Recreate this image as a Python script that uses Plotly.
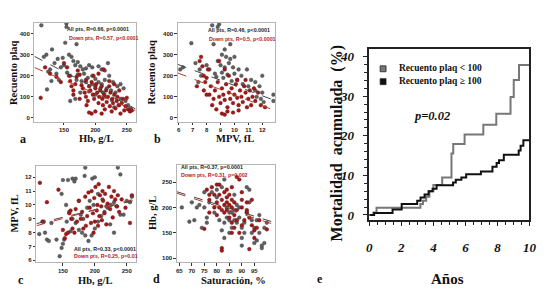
import plotly.graph_objects as go

W, H = 560, 295
def px(x): return x / W
def py(y): return 1 - y / H

# ---------------- data ----------------
# panel a: Hb (g/L) vs platelet count
a_all_hb = [114,154,154,152,170,131,122,118,140,148,158,162,165,172,168,176,180,185,190,195,205,210,215,220,145,150,135,128,138,155,160,172,182,188,195,200,205,210,215,222,228,235,240,245,232,225,218,212,208,200,195,185,178,170,160,168,240,248,252,256,238,230,226,200,190,215,130,142,123,125,176]
a_all_pl = [440,448,432,357,350,325,300,290,280,285,300,290,270,265,250,245,230,235,250,240,245,230,225,260,240,250,260,230,210,215,200,205,210,190,200,185,170,160,180,200,170,150,160,140,120,130,140,120,140,150,160,170,175,180,80,90,90,80,60,45,60,50,85,110,125,100,175,180,135,220,120]
a_down_hb = [113,120,128,138,145,150,155,158,160,162,165,168,170,172,175,178,180,183,185,188,190,192,194,196,198,200,201,203,205,206,208,210,211,212,214,215,217,218,220,222,223,224,226,227,228,230,232,234,235,237,238,240,242,244,246,248,250,252,255,258,200,194,190,186,210,165,175,197,205,213,222,230,185]
a_down_pl = [95,240,210,195,170,260,240,200,175,150,130,160,195,225,205,155,140,120,100,80,150,130,170,110,90,140,160,120,70,100,130,150,90,60,110,40,130,75,100,150,55,120,30,90,70,110,45,80,100,60,130,20,70,90,35,55,95,40,30,35,30,20,25,60,20,110,90,200,210,230,175,160,180]

# panel b: MPV (fL) vs platelet count
b_all_mpv = [8.4,8.9,8.8,6.9,8.5,9.3,9.7,9.1,9.4,9.7,10.0,8.8,9.0,9.6,9.3,9.9,10.3,10.9,8.0,8.2,8.6,9.1,9.5,10.0,10.5,11.2,11.5,12.0,12.8,12.8,12.0,11.8,11.5,11.0,10.6,10.2,9.8,9.2,8.7,7.6,7.4,7.5,6.3,6.1,7.2,11.9,11.6,12.1]
b_all_pl = [440,445,432,355,350,325,350,300,290,280,290,270,250,260,240,240,230,230,250,230,210,215,205,210,200,180,170,200,110,80,120,150,130,150,160,180,175,190,195,200,170,230,240,230,260,90,100,75]
b_down_mpv = [7.6,7.5,7.7,8.0,7.9,7.8,8.1,8.3,8.2,8.5,8.6,8.8,8.9,9.0,9.1,9.2,9.3,9.4,9.5,9.6,9.7,9.8,9.9,10.0,10.1,10.2,10.3,10.4,10.5,10.6,10.7,10.8,10.9,11.0,11.1,11.2,11.3,11.5,11.7,11.9,12.2,9.3,9.1,9.5,9.9,10.3,8.4,8.7,9.6,10.2,8.9,9.3,10.8,11.4,8.0,7.8,7.3]
b_down_pl = [290,270,245,190,170,200,230,150,110,90,130,170,100,70,140,110,85,160,50,120,90,140,70,110,160,95,60,130,100,75,150,120,50,90,130,60,100,80,120,60,50,15,20,30,25,35,60,40,200,180,270,230,180,140,110,130,150]

# panel c: Hb (g/L) vs MPV (fL)
c_all_hb = [113,125,128,120,122,132,140,145,148,150,152,148,150,158,165,170,168,185,184,196,200,236,240,155,160,165,170,175,180,185,190,195,200,205,210,215,220,225,230,235,240,245,250,255,258,175,178,182,188,192,198,205,212,218,224,230,162,156]
c_all_mpv = [7.9,7.5,7.4,8.8,8.0,8.7,7.5,6.3,6.9,7.2,7.5,10.8,11.8,11.8,11.9,11.9,11.7,12.7,12.1,11.9,12.0,12.7,12.2,10.0,9.5,9.0,8.7,8.2,8.0,7.8,7.4,7.8,8.3,8.8,9.2,9.5,9.8,10.0,10.2,9.9,9.3,9.3,10.3,10.2,10.6,10.3,9.3,9.0,9.8,10.3,10.0,10.8,10.4,9.9,8.6,8.0,8.1,8.8]
c_down_hb = [114,118,125,143,150,153,155,158,160,162,165,168,172,175,178,180,182,185,188,190,192,194,195,197,199,200,201,203,204,205,206,207,208,210,211,212,213,215,216,218,220,222,224,226,228,230,232,234,236,238,242,248,255,258,163,170,186,198]
c_down_mpv = [11.6,8.8,10.2,11.1,8.2,7.6,7.9,8.0,9.4,9.6,8.3,8.0,8.8,10.3,9.0,9.5,8.3,10.6,9.2,10.9,9.8,8.7,11.0,9.4,10.5,8.8,11.3,9.6,10.0,8.5,11.5,9.2,10.7,9.9,8.9,11.0,10.3,9.4,10.8,8.6,10.1,11.3,9.7,10.6,9.1,11.0,10.4,9.9,10.7,9.5,10.4,9.8,8.7,10.7,9.0,9.7,8.5,8.0]

# panel d: oxygen saturation (%) vs Hb (g/L)
d_all_sat = [66,69,70,71,72,73,75,76,76,77,78,79,80,80,81,82,83,83,84,84,85,85,86,86,87,87,88,88,89,90,90,90,91,91,92,92,93,94,94,95,95,96,96,97,98,98,99,99,83,82,85,87,89,93,97,100,75,74]
d_all_hb = [200,172,210,175,200,205,200,180,170,210,230,190,235,220,175,155,140,170,180,200,150,175,160,190,195,225,170,205,180,160,140,125,150,170,190,240,235,175,150,160,130,175,135,150,120,125,130,160,255,240,190,175,200,210,185,170,230,160]
d_down_sat = [75,76,77,77,77,78,79,80,80,80,81,81,82,82,82,82,83,83,83,84,84,84,85,85,85,86,86,86,86,87,87,87,88,88,88,89,89,90,90,90,91,92,92,93,93,94,94,95,95,96,97,100,81,79,84,86,92,90]
d_down_hb = [158,235,225,215,190,240,200,245,210,185,200,225,215,195,120,115,205,230,190,210,220,195,205,180,225,200,170,215,150,185,210,160,195,175,260,255,150,200,215,165,175,195,210,118,180,165,215,155,140,160,175,157,245,225,235,240,190,230]

# regression lines (end points)
a_line_x = [103, 264]; a_line_all = [292, 42]; a_line_down = [239, 34]
b_line_x = [5.93, 12.92]; b_line_all = [254, 82]; b_line_down = [213, 34]
c_line_x = [108.5, 263.8]; c_line_all = [8.65, 10.35]; c_line_down = [8.5, 10.45]
d_line_x = [64, 103.3]; d_line_all = [231, 170]; d_line_down = [228, 166]

# panel e: cumulative mortality (%) vs years
e_low_t = [0, 0.25, 0.45, 3.19, 3.35, 3.55, 3.75, 4.0, 4.55, 5.13, 5.24, 5.95, 7.12, 7.93, 8.82, 9.02, 9.35, 10]
e_low_v = [0, 0.6, 1.8, 2.8, 3.6, 4.6, 6.0, 7.6, 9.5, 15.5, 17.9, 20.3, 22.8, 25.6, 29.8, 34.1, 37.9, 37.9]
e_high_t = [0, 0.3, 1.45, 2.02, 2.99, 3.2, 3.45, 3.7, 3.95, 4.2, 5.23, 5.4, 5.75, 6.05, 6.97, 7.69, 7.95, 8.1, 8.4, 9.33, 9.45, 9.62, 10]
e_high_v = [0, 0.5, 1.4, 2.8, 3.6, 4.4, 5.2, 6.0, 6.6, 7.5, 8.2, 8.9, 9.5, 10.3, 11.0, 12.2, 13.1, 13.8, 15.2, 16.3, 17.5, 18.9, 18.9]

stats = {
    'a': ("All pts, R=0.66, p<0.0001", "Down pts, R=0.57, p<0.0001"),
    'b': ("All pts, R=0.46, p<0.0001", "Down pts, R=0.5, p<0.0001"),
    'c': ("All pts, R=0.33, p<0.0001", "Down pts, R=0.25, p=0.01"),
    'd': ("All pts, R=0.37, p=0.0001", "Down pts, R=0.31, p=0.002"),
}

# ---------------- figure ----------------
GRAY = '#606060'; GRAY_E = '#404040'
RED = '#a11a1a'; RED_E = '#6a0c0c'
fig = go.Figure()

def scat(xs, ys, col, edge, xa, ya):
    fig.add_trace(go.Scatter(x=xs, y=ys, mode='markers', xaxis=xa, yaxis=ya,
                             marker=dict(size=3.7, color=col, line=dict(color=edge, width=0.4)),
                             showlegend=False, hoverinfo='skip'))

def reg(xs, ys, col, xa, ya):
    fig.add_trace(go.Scatter(x=xs, y=ys, mode='lines', xaxis=xa, yaxis=ya,
                             line=dict(color=col, width=1, dash='dash'),
                             showlegend=False, hoverinfo='skip'))

panels = [
    ('x', 'y', a_all_hb, a_all_pl, a_down_hb, a_down_pl, a_line_x, a_line_all, a_line_down),
    ('x2', 'y2', b_all_mpv, b_all_pl, b_down_mpv, b_down_pl, b_line_x, b_line_all, b_line_down),
    ('x3', 'y3', c_all_hb, c_all_mpv, c_down_hb, c_down_mpv, c_line_x, c_line_all, c_line_down),
    ('x4', 'y4', d_all_sat, d_all_hb, d_down_sat, d_down_hb, d_line_x, d_line_all, d_line_down),
]
for xa, ya, gx, gy, rx, ry, lx, lg, lr in panels:
    scat(gx, gy, GRAY, GRAY_E, xa, ya)
    scat(rx, ry, RED, RED_E, xa, ya)
    reg(lx, lg, '#444444', xa, ya)
    reg(lx, lr, '#c0392b', xa, ya)

fig.add_trace(go.Scatter(x=e_low_t, y=e_low_v, mode='lines', line=dict(shape='hv', color='#777777', width=2),
                         xaxis='x5', yaxis='y5', showlegend=False, hoverinfo='skip'))
fig.add_trace(go.Scatter(x=e_high_t, y=e_high_v, mode='lines', line=dict(shape='hv', color='#111111', width=2),
                         xaxis='x5', yaxis='y5', showlegend=False, hoverinfo='skip'))

def sax(dom, rng, anchor, tickvals):
    return dict(domain=dom, range=rng, anchor=anchor, tickvals=tickvals,
                showline=True, linecolor='#b5b5b5', linewidth=1, mirror=True,
                ticks='outside', ticklen=2.5, tickwidth=1, tickcolor='#333333',
                showgrid=False, zeroline=False,
                tickfont=dict(family='Liberation Sans', size=6, color='#222222', weight='bold'))

yd_top = [py(123), py(23)]
yd_bot = [py(265), py(167)]
ser = dict(family='Liberation Serif', size=13, color='#111111', weight='bold', style='italic')
eax = dict(showline=True, linecolor='#222222', linewidth=1.5, mirror=True, ticks='outside', ticklen=5,
           tickwidth=1.3, tickcolor='#222222', showgrid=False, zeroline=False, tickfont=ser)

fig.update_layout(
    width=W, height=H, margin=dict(l=0, r=0, t=0, b=0),
    paper_bgcolor='white', plot_bgcolor='white', showlegend=False,
    xaxis=sax([px(32), px(135)], [103, 264], 'y', [150, 200, 250]),
    yaxis=sax(yd_top, [-19, 452], 'x', [0, 100, 200, 300, 400]),
    xaxis2=sax([px(178), px(277)], [5.93, 12.92], 'y2', [6, 7, 8, 9, 10, 11, 12]),
    yaxis2=sax(yd_top, [-19, 452], 'x2', [0, 100, 200, 300, 400]),
    xaxis3=sax([px(34), px(135)], [108.5, 263.8], 'y3', [150, 200, 250]),
    yaxis3=sax([py(265), py(168)], [5.86, 12.79], 'x3', [6, 7, 8, 9, 10, 11, 12]),
    xaxis4=sax([px(177), px(277)], [64, 103.3], 'y4', [65, 70, 75, 80, 85, 90, 95]),
    yaxis4=sax(yd_bot, [92, 283], 'x4', [100, 150, 200, 250]),
    xaxis5=dict(domain=[px(373), px(536)], range=[0, 10], anchor='y5', tickvals=[0, 2, 4, 6, 8, 10],
                ticklabelstandoff=10,
                minor=dict(ticks='outside', ticklen=4, tickwidth=1.2, dtick=0.5, tick0=0, tickcolor='#222222', showgrid=False),
                **eax),
    yaxis5=dict(domain=[py(222), py(50)], range=[-1.2, 41.8], anchor='x5', tickvals=[0, 10, 20, 30, 40],
                ticklabelstandoff=6,
                minor=dict(ticks='outside', ticklen=4, tickwidth=1.2, dtick=2, tick0=0, tickcolor='#222222', showgrid=False),
                **eax),
)

ann = []
def A(x, y, text, size, color='#111111', family='Liberation Serif', weight='bold', style='normal', angle=0, xanchor='center'):
    ann.append(dict(x=px(x), y=py(y), xref='paper', yref='paper', text=text, showarrow=False,
                    xanchor=xanchor, yanchor='middle', textangle=angle,
                    font=dict(family=family, size=size, color=color, weight=weight, style=style)))

# axis titles & panel letters
A(10, 73, 'Recuento plaq', 10.5, angle=-90)
A(151, 73, 'Recuento plaq', 10.5, angle=-90)
A(12, 216, 'MPV, fL', 10.5, angle=-90)
A(153, 215, 'Hb, g/L', 10.5, angle=-90)
A(95, 140, 'Hb, g/L', 10.5)
A(236, 140, 'MPV, fL', 10.5)
A(94, 283, 'Hb, g/L', 10.5)
A(235, 283, 'Saturación, %', 10.5)
A(20, 140, 'a', 12)
A(157, 140, 'b', 12)
A(18, 283, 'c', 12)
A(156, 282, 'd', 12)

# stats text
sf = 'Liberation Sans'
A(63, 29, stats['a'][0], 5.3, color='#222222', family=sf, xanchor='left')
A(65, 38, stats['a'][1], 5.3, color='#b01c1c', family=sf, xanchor='left')
A(207, 30, stats['b'][0], 5.3, color='#222222', family=sf, xanchor='left')
A(208, 39, stats['b'][1], 5.3, color='#b01c1c', family=sf, xanchor='left')
A(70, 252, stats['c'][0], 5.3, color='#222222', family=sf, xanchor='left')
A(70, 258.5, stats['c'][1], 5.3, color='#b01c1c', family=sf, xanchor='left')
A(179, 169, stats['d'][0], 5.3, color='#222222', family=sf, xanchor='left')
A(179, 177, stats['d'][1], 5.3, color='#b01c1c', family=sf, xanchor='left')

# panel e texts
A(340, 145, 'Mortalidad  acumulada  (%)', 16, angle=-90)
A(453, 282, 'Años', 15)
A(323, 282, 'e', 12)
A(401, 69, 'Recuento plaq &lt; 100', 9.5, xanchor='left')
A(401, 82, 'Recuento plaq ≥ 100', 9.5, xanchor='left')
A(437, 117, 'p=0.02', 12.5, style='italic')
fig.update_layout(annotations=ann)

shapes = []
for yc, col in [(69.5, '#777777'), (82.5, '#111111')]:
    shapes.append(dict(type='rect', xref='paper', yref='paper', x0=px(384), x1=px(390), y0=py(yc + 3), y1=py(yc - 3),
                       fillcolor=col, line=dict(color='#222222', width=0.8)))
fig.update_layout(shapes=shapes)

fig.write_html('out.html', config={'displayModeBar': False},
               post_script="document.body.style.margin='0';document.body.style.overflow='hidden';")
